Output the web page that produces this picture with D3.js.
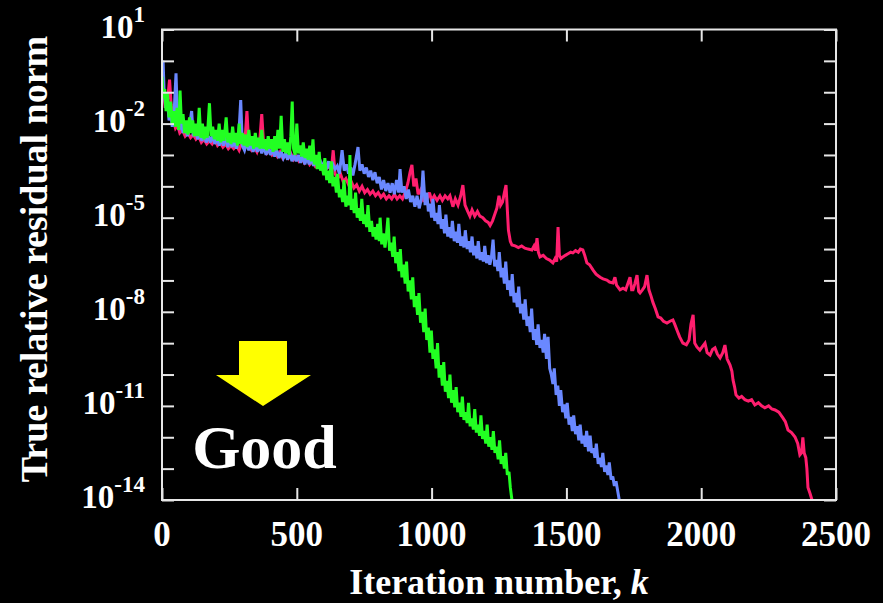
<!DOCTYPE html>
<html>
<head>
<meta charset="utf-8">
<script src="https://cdn.jsdelivr.net/npm/d3@7"></script>
<style>
html,body{margin:0;padding:0;background:#000;}
svg{display:block;}
text{font-family:"Liberation Serif","Times New Roman",serif;font-weight:bold;fill:#fff;}
</style>
</head>
<body>
<svg id="chart" width="883" height="603"></svg>
<script>
// ---- data: [iteration k, log10(true relative residual norm)] ----
const seriesNames = ["red", "blue", "green"];
const seriesColors = ["#ff1e6e", "#6a88ff", "#22ff22"];

const redSeries = [[0,-0.4],[6,-1.0],[12,-1.5],[20,-1.3],[28,-0.6],[34,-1.4],[42,-1.9],[50,-2.15],[58,-2.05],[66,-2.3],[76,-2.2],[86,-2.4],[96,-2.3],[106,-2.45],[116,-2.35],[126,-2.5],[136,-2.4],[146,-2.6],[156,-2.5],[166,-2.65],[176,-2.55],[186,-2.65],[196,-2.5],[206,-2.7],[216,-2.6],[226,-2.75],[236,-2.65],[246,-2.8],[256,-2.7],[266,-2.8],[276,-2.7],[286,-2.85],[296,-2.6],[306,-2.8],[315,-1.6],[322,-2.7],[332,-2.85],[342,-2.75],[352,-2.9],[362,-2.6],[370,-1.7],[378,-2.8],[388,-2.95],[398,-2.85],[408,-3.0],[418,-2.9],[428,-3.05],[438,-2.9],[448,-3.1],[458,-3.0],[468,-3.1],[478,-2.95],[488,-3.15],[498,-3.05],[508,-3.2],[518,-3.1],[528,-3.25],[538,-3.1],[548,-3.3],[558,-3.2],[568,-3.35],[578,-3.2],[588,-3.4],[598,-3.3],[608,-3.45],[618,-3.35],[628,-3.5],[635,-2.85],[642,-3.6],[652,-3.75],[662,-3.6],[672,-3.85],[682,-3.75],[692,-3.95],[702,-3.85],[712,-4.05],[722,-3.95],[732,-4.15],[742,-4.0],[752,-4.2],[762,-4.1],[772,-4.25],[782,-4.15],[792,-4.3],[802,-4.2],[812,-4.35],[822,-4.25],[832,-4.4],[842,-4.3],[852,-4.4],[862,-4.25],[872,-4.4],[882,-4.3],[892,-4.4],[902,-4.2],[912,-3.9],[920,-3.55],[927,-3.32],[934,-4.0],[942,-3.75],[950,-4.25],[960,-4.1],[970,-4.45],[983,-4.4],[992,-4.2],[1000,-4.45],[1010,-4.3],[1020,-4.45],[1031,-4.3],[1040,-4.45],[1050,-4.3],[1060,-4.4],[1068,-4.3],[1079,-4.65],[1088,-4.4],[1098,-4.6],[1108,-4.3],[1116,-3.96],[1124,-4.6],[1134,-4.8],[1142,-4.95],[1150,-4.75],[1160,-4.95],[1170,-4.8],[1179,-4.95],[1190,-5.0],[1200,-5.1],[1210,-5.15],[1217,-5.25],[1226,-5.1],[1234,-4.9],[1242,-4.7],[1250,-4.3],[1256,-4.6],[1263,-4.5],[1270,-4.2],[1276,-3.96],[1280,-4.6],[1285,-5.4],[1292,-5.75],[1298,-5.87],[1310,-5.9],[1322,-5.95],[1334,-5.9],[1346,-5.97],[1358,-6.0],[1372,-6.03],[1380,-5.9],[1386,-6.05],[1391,-5.65],[1396,-6.1],[1402,-6.25],[1414,-6.2],[1426,-6.3],[1438,-6.35],[1450,-6.44],[1458,-6.3],[1464,-6.4],[1469,-5.3],[1474,-6.2],[1480,-6.3],[1487,-6.25],[1496,-6.2],[1506,-6.15],[1516,-6.1],[1524,-6.12],[1534,-6.05],[1544,-6.1],[1552,-6.0],[1561,-6.03],[1568,-6.2],[1576,-6.44],[1586,-6.5],[1599,-6.67],[1610,-6.8],[1625,-6.9],[1636,-6.95],[1650,-6.99],[1660,-7.05],[1673,-7.08],[1680,-6.9],[1686,-7.15],[1699,-7.3],[1710,-7.25],[1720,-7.3],[1728,-7.1],[1736,-6.9],[1742,-7.3],[1747,-7.3],[1754,-7.1],[1762,-6.83],[1768,-7.35],[1773,-7.4],[1782,-7.3],[1790,-7.2],[1799,-6.83],[1806,-7.3],[1814,-7.5],[1821,-7.7],[1830,-7.9],[1840,-8.16],[1850,-8.2],[1860,-8.3],[1873,-8.36],[1884,-8.3],[1895,-8.26],[1902,-8.4],[1910,-8.58],[1920,-8.8],[1932,-9.0],[1945,-9.05],[1955,-8.9],[1962,-8.4],[1970,-8.1],[1976,-9.0],[1984,-9.12],[1995,-9.22],[2005,-9.1],[2014,-9.0],[2022,-9.3],[2033,-9.38],[2042,-9.2],[2051,-9.15],[2060,-9.35],[2070,-9.47],[2080,-9.3],[2088,-9.06],[2096,-9.5],[2107,-9.7],[2114,-9.9],[2118,-10.17],[2124,-10.4],[2129,-10.65],[2140,-10.75],[2150,-10.7],[2162,-10.8],[2175,-10.85],[2187,-10.8],[2199,-10.97],[2212,-10.9],[2224,-11.0],[2236,-11.06],[2250,-11.0],[2262,-11.1],[2274,-11.13],[2288,-11.2],[2303,-11.38],[2312,-11.5],[2322,-11.77],[2335,-11.85],[2348,-11.99],[2358,-12.2],[2366,-12.56],[2372,-12.5],[2377,-12.0],[2382,-12.5],[2388,-12.65],[2392,-13.0],[2396,-13.6],[2404,-13.8],[2411,-14.0]];

const blueSeries = [[0,-0.05],[4,0.0],[8,-1.0],[14,-1.5],[20,-1.2],[26,-1.9],[32,-1.6],[38,-2.1],[44,-1.8],[52,-0.4],[58,-2.0],[64,-2.2],[70,-1.9],[78,-2.3],[86,-2.0],[94,-2.4],[102,-2.1],[110,-1.6],[116,-2.4],[124,-2.2],[132,-2.5],[140,-2.3],[148,-2.55],[156,-2.3],[164,-2.6],[172,-2.4],[180,-2.6],[188,-2.35],[196,-2.65],[204,-2.45],[212,-2.7],[220,-2.5],[228,-2.7],[236,-2.4],[244,-2.75],[252,-2.5],[260,-2.75],[268,-2.55],[276,-2.8],[284,-2.5],[292,-1.25],[298,-2.7],[306,-2.85],[314,-2.6],[322,-2.85],[330,-2.6],[338,-2.9],[346,-2.65],[354,-2.9],[362,-2.7],[370,-2.95],[378,-2.7],[386,-3.0],[394,-2.75],[402,-3.0],[410,-2.8],[418,-3.05],[426,-2.85],[434,-3.1],[442,-2.9],[450,-3.1],[458,-2.95],[466,-3.15],[474,-2.9],[482,-3.2],[490,-3.0],[498,-3.2],[506,-3.0],[514,-3.25],[522,-3.0],[530,-3.3],[538,-3.05],[546,-3.3],[554,-3.1],[562,-3.35],[570,-3.1],[578,-3.4],[586,-3.15],[594,-3.45],[602,-3.2],[610,-3.45],[618,-3.2],[626,-3.5],[634,-3.3],[642,-3.45],[650,-3.35],[658,-3.6],[668,-2.85],[676,-3.5],[684,-3.3],[692,-3.6],[700,-3.4],[708,-3.65],[716,-3.3],[727,-2.75],[734,-3.5],[742,-3.3],[750,-3.6],[758,-3.4],[766,-3.7],[774,-3.5],[782,-3.8],[790,-3.55],[798,-3.9],[806,-3.7],[814,-4.1],[822,-3.8],[830,-4.15],[838,-3.9],[846,-4.2],[854,-3.9],[862,-4.25],[870,-3.8],[878,-4.2],[883,-3.45],[890,-4.2],[898,-4.0],[906,-4.4],[914,-4.1],[922,-4.5],[930,-4.3],[938,-4.65],[946,-4.3],[954,-4.7],[962,-4.4],[968,-3.5],[976,-4.6],[982,-4.2],[988,-4.8],[994,-4.55],[1000,-5.0],[1005,-4.4],[1012,-5.1],[1018,-4.85],[1024,-5.2],[1029,-4.6],[1036,-5.35],[1042,-5.05],[1048,-5.5],[1053,-4.9],[1060,-5.6],[1066,-5.3],[1072,-5.65],[1077,-5.1],[1084,-5.75],[1090,-5.45],[1096,-5.8],[1101,-5.2],[1108,-5.9],[1114,-5.6],[1120,-5.95],[1125,-5.4],[1132,-6.0],[1138,-5.75],[1144,-6.1],[1150,-5.6],[1156,-6.2],[1162,-5.9],[1168,-6.3],[1173,-5.75],[1180,-6.35],[1186,-6.1],[1192,-6.4],[1197,-5.9],[1204,-6.45],[1210,-6.2],[1216,-6.5],[1222,-6.25],[1228,-5.7],[1234,-6.55],[1240,-6.35],[1246,-6.7],[1251,-6.1],[1258,-6.9],[1264,-6.6],[1270,-7.1],[1275,-6.4],[1282,-7.3],[1288,-7.0],[1294,-7.5],[1299,-6.8],[1306,-7.7],[1312,-7.4],[1318,-7.85],[1323,-7.2],[1330,-8.05],[1336,-7.75],[1342,-8.25],[1347,-7.6],[1354,-8.45],[1360,-8.15],[1366,-8.65],[1371,-7.9],[1378,-8.9],[1384,-8.55],[1390,-9.05],[1395,-8.4],[1402,-9.15],[1408,-8.9],[1414,-9.3],[1419,-8.7],[1426,-9.5],[1432,-8.8],[1438,-9.8],[1444,-10.0],[1450,-10.3],[1455,-9.8],[1462,-10.65],[1468,-10.35],[1474,-11.0],[1479,-10.5],[1486,-11.2],[1492,-10.95],[1498,-11.4],[1503,-10.9],[1510,-11.6],[1516,-11.35],[1522,-11.8],[1527,-11.3],[1534,-11.9],[1540,-11.65],[1546,-12.1],[1551,-11.6],[1558,-12.2],[1564,-11.95],[1570,-12.3],[1575,-11.8],[1582,-12.45],[1588,-11.95],[1594,-12.5],[1600,-12.35],[1606,-12.65],[1611,-12.2],[1618,-12.85],[1624,-12.65],[1630,-12.95],[1635,-12.5],[1642,-13.1],[1648,-12.9],[1654,-13.2],[1659,-12.8],[1666,-13.35],[1672,-13.25],[1678,-13.55],[1684,-13.4],[1690,-13.7],[1696,-14.0],[1700,-14.3]];

const greenSeries = [[0,-0.5],[5,-1.2],[10,-0.9],[15,-1.6],[20,-1.0],[26,-1.8],[32,-1.3],[38,-2.0],[44,-1.6],[50,-2.1],[56,-1.5],[62,-2.2],[67,-0.95],[72,-2.0],[78,-1.7],[84,-2.3],[90,-1.9],[96,-2.35],[102,-1.8],[108,-2.3],[114,-1.9],[120,-2.4],[126,-2.0],[132,-2.4],[138,-1.5],[144,-2.45],[150,-2.0],[156,-2.5],[162,-2.1],[168,-2.45],[176,-1.35],[182,-2.4],[188,-2.1],[194,-2.5],[200,-2.2],[206,-2.55],[212,-2.0],[218,-2.6],[224,-2.2],[230,-2.55],[238,-1.8],[244,-2.6],[250,-2.3],[256,-2.65],[262,-2.1],[268,-2.6],[274,-2.3],[280,-2.7],[286,-2.0],[292,-2.65],[298,-2.3],[304,-2.7],[310,-2.35],[316,-2.75],[322,-2.2],[328,-2.7],[334,-2.4],[340,-2.8],[346,-2.3],[352,-2.75],[358,-2.45],[364,-2.8],[370,-2.2],[376,-2.8],[382,-2.5],[388,-2.85],[394,-2.4],[400,-2.8],[406,-2.5],[412,-2.9],[418,-2.4],[424,-2.85],[430,-2.2],[436,-2.8],[442,-1.75],[448,-2.9],[454,-2.5],[460,-2.95],[466,-2.6],[472,-3.0],[478,-2.4],[483,-1.3],[488,-2.8],[494,-3.0],[500,-2.0],[506,-2.95],[512,-2.7],[518,-3.05],[524,-2.6],[530,-3.1],[536,-2.8],[542,-3.15],[548,-2.7],[554,-3.2],[560,-2.5],[565,-3.3],[571,-3.0],[576,-3.45],[583,-2.9],[588,-3.5],[593,-3.3],[600,-3.65],[604,-3.1],[611,-3.8],[617,-3.5],[622,-3.9],[628,-3.2],[634,-4.0],[640,-3.7],[647,-4.2],[651,-3.6],[658,-4.35],[664,-4.1],[670,-4.5],[675,-3.8],[682,-4.65],[688,-4.3],[694,-4.6],[697,-3.0],[702,-4.75],[707,-4.4],[713,-4.85],[718,-4.2],[724,-5.0],[730,-4.7],[736,-5.1],[741,-4.4],[748,-5.2],[753,-4.9],[759,-5.3],[764,-4.6],[771,-5.45],[777,-5.1],[783,-5.6],[788,-5.3],[794,-5.7],[800,-5.2],[806,-5.75],[809,-5.0],[815,-5.85],[821,-5.5],[827,-5.95],[832,-5.6],[838,-5.0],[844,-6.05],[850,-5.8],[856,-6.25],[861,-5.6],[867,-6.45],[873,-6.1],[879,-6.7],[884,-6.0],[890,-6.9],[896,-6.5],[902,-7.1],[907,-6.4],[913,-7.35],[919,-7.0],[925,-7.6],[930,-6.9],[936,-7.85],[942,-7.5],[948,-8.1],[953,-7.4],[959,-8.35],[965,-8.0],[971,-8.65],[976,-7.9],[982,-8.9],[988,-8.5],[994,-9.3],[999,-8.6],[1005,-9.5],[1011,-9.2],[1017,-9.8],[1022,-9.0],[1028,-10.1],[1034,-9.7],[1040,-10.35],[1045,-9.6],[1051,-10.55],[1057,-10.2],[1063,-10.75],[1068,-10.0],[1074,-10.9],[1080,-10.5],[1086,-11.05],[1091,-10.4],[1097,-11.2],[1103,-10.9],[1109,-11.35],[1114,-10.7],[1120,-11.45],[1126,-11.2],[1132,-11.55],[1137,-10.9],[1143,-11.65],[1149,-11.4],[1155,-11.75],[1160,-11.1],[1166,-11.85],[1172,-11.6],[1178,-11.95],[1183,-11.3],[1189,-12.05],[1195,-11.8],[1201,-12.2],[1206,-11.6],[1212,-12.3],[1218,-12.0],[1224,-12.4],[1229,-11.8],[1235,-12.5],[1241,-12.3],[1247,-12.7],[1252,-12.1],[1258,-12.85],[1264,-12.6],[1270,-13.0],[1275,-12.5],[1281,-13.2],[1287,-13.1],[1292,-13.6],[1298,-14.0],[1302,-14.3]];

const xTicks = [0, 500, 1000, 1500, 2000, 2500];
const yLabelExponents = [1, -2, -5, -8, -11, -14];
const yDecadeExponents = [1,0,-1,-2,-3,-4,-5,-6,-7,-8,-9,-10,-11,-12,-13,-14];
const xTitle = "Iteration number, ";
const xTitleVar = "k";
const yTitle = "True relative residual norm";
const goodLabel = "Good";

// ---- layout ----
const svg = d3.select("#chart");
const W = 883, H = 603;
const pL = 162, pR = 836, pT = 29.5, pB = 500;
svg.append("rect").attr("width", W).attr("height", H).attr("fill", "#000");

const x = d3.scaleLinear().domain([0, 2500]).range([pL, pR]);
const y = d3.scaleLog().domain([1e1, 1e-14]).range([pT, pB]);

svg.append("defs").append("clipPath").attr("id", "plotclip")
  .append("rect").attr("x", pL).attr("y", pT).attr("width", pR - pL).attr("height", pB - pT);

const line = d3.line().x(d => x(d[0])).y(d => y(Math.pow(10, d[1])));
const allSeries = [redSeries, blueSeries, greenSeries];
const gLines = svg.append("g").attr("clip-path", "url(#plotclip)");
allSeries.forEach((s, i) => {
  gLines.append("path").datum(s).attr("d", line)
    .attr("fill", "none").attr("stroke", seriesColors[i])
    .attr("stroke-width", 3).attr("stroke-linejoin", "miter").attr("stroke-miterlimit", 3);
});

// ---- axes (ticks inward, both sides) ----
const axisColor = "#e6e6e6";
const decadeVals = yDecadeExponents.map(e => Math.pow(10, e));
function styleAxis(g) {
  g.select(".domain").remove();
  g.selectAll("line").attr("stroke", axisColor).attr("stroke-width", 2);
}
svg.append("g").attr("transform", `translate(${pL},0)`)
  .call(d3.axisLeft(y).tickValues(decadeVals).tickSize(-12).tickFormat("")).call(styleAxis);
svg.append("g").attr("transform", `translate(${pR},0)`)
  .call(d3.axisRight(y).tickValues(decadeVals).tickSize(-12).tickFormat("")).call(styleAxis);
svg.append("g").attr("transform", `translate(0,${pB})`)
  .call(d3.axisBottom(x).tickValues(xTicks).tickSize(-12).tickFormat("")).call(styleAxis);
svg.append("g").attr("transform", `translate(0,${pT})`)
  .call(d3.axisTop(x).tickValues(xTicks).tickSize(-12).tickFormat("")).call(styleAxis);

svg.append("rect").attr("x", pL).attr("y", pT).attr("width", pR - pL).attr("height", pB - pT)
  .attr("fill", "none").attr("stroke", axisColor).attr("stroke-width", 2);

// x tick labels
svg.append("g").selectAll("text").data(xTicks).join("text")
  .attr("x", d => x(d)).attr("y", 546).attr("text-anchor", "middle")
  .style("font-size", "35px").text(d => d);

// y tick labels 10^n
const yl = svg.append("g").selectAll("text").data(yLabelExponents).join("text")
  .attr("x", 145).attr("y", d => y(Math.pow(10, d)) + 8).attr("text-anchor", "end")
  .style("font-size", "33px");
yl.append("tspan").text("10");
yl.append("tspan").attr("dy", -16).style("font-size", "23px").text(d => d);

// axis titles
const xt = svg.append("text").attr("x", (pL + pR) / 2).attr("y", 594)
  .attr("text-anchor", "middle").style("font-size", "36px");
xt.append("tspan").text(xTitle);
xt.append("tspan").style("font-style", "italic").text(xTitleVar);

svg.append("text").attr("transform", "translate(47,259) rotate(-90)")
  .attr("text-anchor", "middle").style("font-size", "38px").text(yTitle);

// ---- "Good" arrow annotation ----
const arrowPts = [[239,341],[287,341],[287,375],[311,375],[263,406],[216,375],[239,375]];
svg.append("path").attr("d", d3.line()(arrowPts) + "Z").attr("fill", "#ffff00");
svg.append("text").attr("x", 264.5).attr("y", 468).attr("text-anchor", "middle")
  .style("font-size", "62px").text(goodLabel);
</script>
</body>
</html>
